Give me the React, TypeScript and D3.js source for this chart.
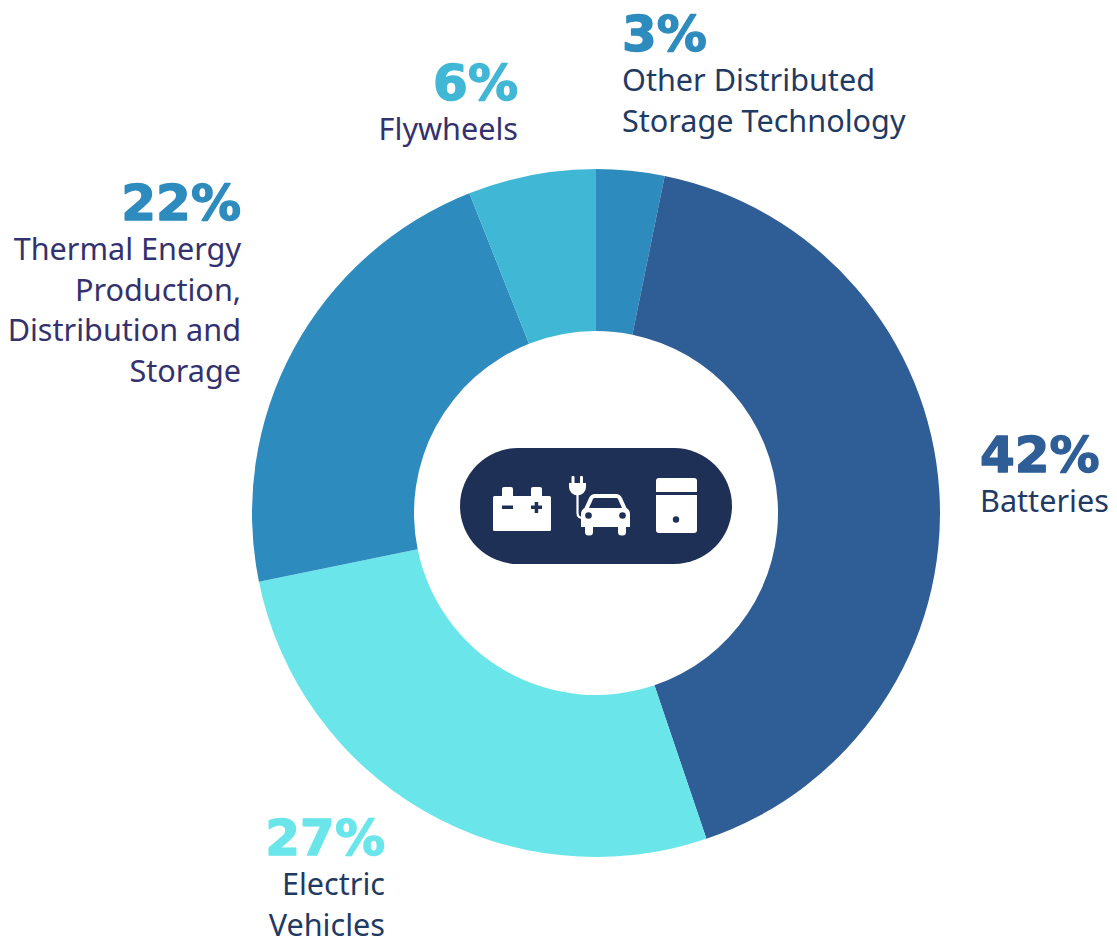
import React from "react";
import * as d3 from "d3";

const categories = ["Other Distributed Storage Technology", "Batteries", "Electric Vehicles", "Thermal Energy Production, Distribution and Storage", "Flywheels"];
const shares = [3.2, 41.6, 27.0, 22.2, 6.0];
const sliceColors = ["#2e8bbd", "#2f5e97", "#6ae6ea", "#2e8bbd", "#41b7d6"];
const labelLines = [
  ["Other Distributed", "Storage Technology"],
  ["Batteries"],
  ["Electric", "Vehicles"],
  ["Thermal Energy", "Production,", "Distribution and", "Storage"],
  ["Flywheels"],
];
const labelColors = ["#1f3a63", "#1f3a63", "#1f3a63", "#33326e", "#33326e"];
const labelAnchors = ["start", "start", "end", "end", "end"];
const labelX = [622, 980, 385, 241, 518];
const labelY = [51, 472, 855, 220, 100];

const W = 1117, H = 939, CX = 596, CY = 513, R = 344, r = 182;
const font = "'Noto Sans', sans-serif";
const pctFont = "'DejaVu Sans', sans-serif";

function Icons() {
  const ink = "#1f3057";
  return (
    <g>
      <rect x={460} y={448} width={272} height={116} rx={58} fill={ink} />
      {/* battery */}
      <g fill="#fff">
        <rect x={502} y={487} width={11} height={12} rx={2} />
        <rect x={531} y={487} width={11} height={12} rx={2} />
        <rect x={493} y={496} width={58} height={35} rx={1.5} />
      </g>
      <g fill={ink}>
        <rect x={502} y={505.5} width={11} height={3.5} />
        <rect x={531} y={505.5} width={11} height={3.5} />
        <rect x={534.7} y={502} width={3.5} height={11} />
      </g>
      {/* plug */}
      <g fill="#fff">
        <rect x={571.5} y={476} width={3} height={8} rx={1} />
        <rect x={580} y={476} width={3} height={8} rx={1} />
        <path d={"M569 483 H586 V487 A8.5 8.5 0 0 1 569 487 Z"} />
      </g>
      <path d="M577.5 494 V513 Q577.5 518 583 518" fill="none" stroke="#fff" strokeWidth={2.2} />
      {/* car */}
      <g fill="#fff">
        <path d="M595 494 H616 Q620 494 622 498 L626.5 508 Q630 510 630 514 V527 H581 V514 Q581 510 584.5 508 L589 498 Q591 494 595 494 Z" />
        <rect x={585} y={522} width={8} height={13.5} rx={3.5} />
        <rect x={618} y={522} width={8} height={13.5} rx={3.5} />
      </g>
      <path d="M594.5 498 H616.5 Q617.5 498 618 499 L622 508 H589 L593 499 Q593.5 498 594.5 498 Z" fill={ink} />
      <circle cx={588.5} cy={515.5} r={3.3} fill={ink} />
      <circle cx={622.5} cy={515.5} r={3.3} fill={ink} />
      {/* storage unit */}
      <g fill="#fff">
        <path d="M659 478 H694 Q697 478 697 481 V492 H656 V481 Q656 478 659 478 Z" />
        <path d="M656 495 H697 V530 Q697 533 694 533 H659 Q656 533 656 530 Z" />
      </g>
      <circle cx={676} cy={519.5} r={3.2} fill={ink} />
    </g>
  );
}

export default function App() {
  const pie = d3.pie<number>().sort(null).value((d) => d);
  const arc = d3.arc<d3.PieArcDatum<number>>().innerRadius(r).outerRadius(R);
  const arcs = pie(shares);
  return (
    <svg width={W} height={H} viewBox={`0 0 ${W} ${H}`} style={{ position: "absolute", left: 0, top: 0 }}>
      <defs>
        <clipPath id="frame"><rect x={0} y={0} width={940} height={H} /></clipPath>
      </defs>
      <g clipPath="url(#frame)">
        <g transform={`translate(${CX},${CY})`}>
          {arcs.map((a, i) => (
            <path key={categories[i]} d={arc(a) ?? ""} fill={sliceColors[i]} />
          ))}
        </g>
      </g>
      <Icons />
      {categories.map((c, i) => (
        <g key={c} textAnchor={labelAnchors[i]}>
          <text x={labelX[i]} y={labelY[i]} fontFamily={pctFont} fontSize={50} fontWeight={700} fill={sliceColors[i]} stroke={sliceColors[i]} strokeWidth={1.4} strokeLinejoin="round">
            {Math.round(shares[i])}%
          </text>
          {labelLines[i].map((l, j) => (
            <text key={l} x={labelX[i]} y={labelY[i] + 40 + j * 40.5} fontFamily={font} fontSize={30.6} fill={labelColors[i]}>
              {l}
            </text>
          ))}
        </g>
      ))}
    </svg>
  );
}
